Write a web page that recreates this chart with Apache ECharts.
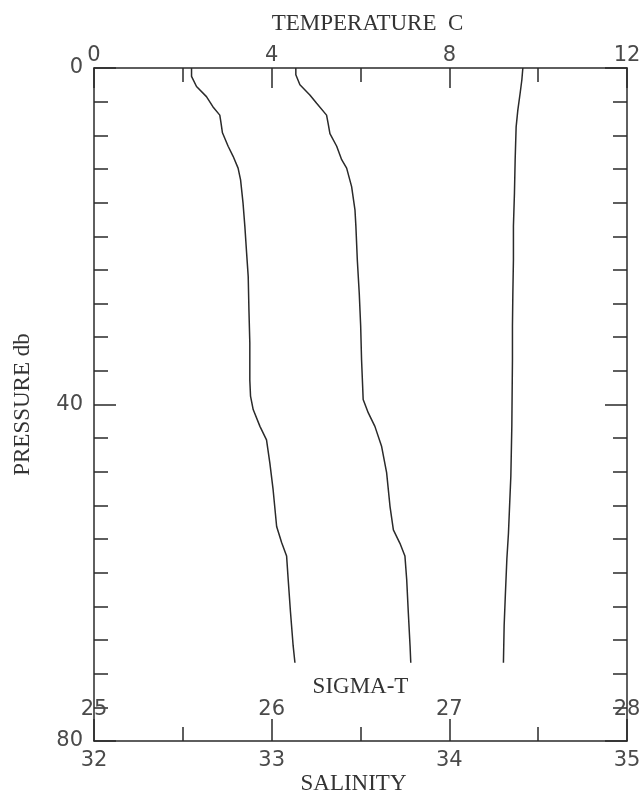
<!DOCTYPE html>
<html>
<head>
<meta charset="utf-8">
<style>html,body{margin:0;padding:0;background:#fff;}#c{width:644px;height:795px;}</style>
<script src="https://cdn.jsdelivr.net/npm/echarts@6/dist/echarts.min.js"></script>
</head>
<body>
<div id="c"></div>
<script>
// Pressure (db) sampling for each profile
var sigmaPressure = [0, 1, 2.2, 3.4, 4.6, 5.6, 6.4, 7.7, 9.3, 10.5, 11.9, 13.3, 16.1, 18.8, 22.0, 24.8, 28.7, 32.7, 37.1, 39.0, 40.6, 42.6, 44.2, 47.0, 50.1, 54.5, 56.4, 58.0, 60.8, 64.7, 68.7, 70.7];
var sigmaValues = [25.549, 25.549, 25.577, 25.633, 25.669, 25.708, 25.714, 25.723, 25.755, 25.783, 25.811, 25.825, 25.839, 25.849, 25.859, 25.868, 25.872, 25.877, 25.877, 25.881, 25.896, 25.934, 25.971, 25.990, 26.008, 26.028, 26.056, 26.084, 26.093, 26.106, 26.121, 26.131];

var salinityPressure = [0, 0.8, 2.0, 3.2, 4.2, 5.6, 6.6, 7.8, 9.3, 10.9, 11.9, 14.1, 16.9, 18.8, 22.8, 26.8, 30.7, 34.7, 37.8, 39.4, 41.0, 42.6, 45.0, 48.1, 52.1, 54.9, 56.5, 58.0, 60.8, 64.7, 68.7, 70.7];
var salinityValues = [33.136, 33.136, 33.159, 33.215, 33.253, 33.309, 33.318, 33.328, 33.366, 33.394, 33.422, 33.450, 33.469, 33.474, 33.482, 33.493, 33.501, 33.506, 33.512, 33.515, 33.544, 33.581, 33.619, 33.647, 33.666, 33.685, 33.722, 33.750, 33.760, 33.769, 33.779, 33.783];

var tempPressure = [0, 1.4, 3.0, 5.0, 7.0, 10.9, 14.9, 18.8, 22.8, 26.8, 30.7, 34.7, 38.6, 42.6, 48.5, 52.5, 55.3, 58.4, 62.4, 66.3, 70.7];
var tempValues = [9.655, 9.633, 9.594, 9.542, 9.504, 9.482, 9.466, 9.443, 9.443, 9.430, 9.421, 9.421, 9.414, 9.407, 9.385, 9.353, 9.331, 9.295, 9.263, 9.234, 9.218];

var tempTicks = [0, 4, 8, 12];
var salinityTicks = [32, 33, 34, 35];
var sigmaTicks = [25, 26, 27, 28];
var pressureTicks = [0, 40, 80];

function pairs(xs, ps) { return xs.map(function (v, i) { return [v, ps[i]]; }); }
function only(list) { return function (v) { return list.indexOf(v) >= 0 ? String(v) : ''; }; }

var ink = '#2a2a2a';
var labelFont = { fontFamily: 'DejaVu Sans', fontSize: 21, color: '#4a4a4a' };
function nameFont(extra) { return Object.assign({ fontFamily: 'Liberation Serif', fontSize: 23, color: '#333' }, extra || {}); }
var tickLine = { color: ink, width: 1.5 };

function rightFrame(interval, len, showLine) {
  return {
    type: 'value', position: 'right', inverse: true, min: 0, max: 80, interval: interval,
    axisLine: { show: showLine, onZero: false, lineStyle: tickLine },
    axisTick: { show: true, inside: true, length: len, lineStyle: tickLine },
    minorTick: { show: false },
    axisLabel: { show: false },
    splitLine: { show: false }
  };
}

var chart = echarts.init(document.getElementById('c'), null, { renderer: 'canvas' });
chart.setOption({
  animation: false,
  backgroundColor: '#fff',
  grid: { left: 94, right: 17, top: 68, bottom: 54, containLabel: false, outerBoundsMode: 'none' },
  xAxis: [
    {
      type: 'value', position: 'top', min: 0, max: 12, interval: 4,
      name: 'TEMPERATURE  C', nameLocation: 'middle', nameGap: 33, nameMoveOverlap: false,
      nameTextStyle: nameFont({ padding: [0, 0, 0, 14] }),
      axisLine: { show: true, lineStyle: tickLine },
      axisTick: { show: true, inside: true, length: 20, lineStyle: tickLine },
      minorTick: { show: true, splitNumber: 2, length: 14, lineStyle: tickLine },
      axisLabel: Object.assign({ margin: 2, formatter: only(tempTicks) }, labelFont),
      splitLine: { show: false }
    },
    {
      type: 'value', position: 'bottom', min: 32, max: 35, interval: 1,
      name: 'SALINITY', nameLocation: 'middle', nameGap: 31, nameMoveOverlap: false,
      nameTextStyle: nameFont({ padding: [0, 14, 0, 0] }),
      axisLine: { show: true, onZero: false, lineStyle: tickLine },
      axisTick: { show: true, inside: true, length: 22, lineStyle: tickLine },
      minorTick: { show: true, splitNumber: 2, length: 14, lineStyle: tickLine },
      axisLabel: Object.assign({ margin: 9, formatter: only(salinityTicks) }, labelFont),
      splitLine: { show: false }
    },
    {
      type: 'value', position: 'bottom', offset: -44, min: 25, max: 28, interval: 1,
      name: 'SIGMA-T', nameLocation: 'middle', nameGap: -22, nameMoveOverlap: false,
      nameTextStyle: nameFont(),
      axisLine: { show: false, onZero: false },
      axisTick: { show: false },
      axisLabel: Object.assign({ margin: 2, formatter: only(sigmaTicks) }, labelFont),
      splitLine: { show: false }
    }
  ],
  yAxis: [
    {
      type: 'value', position: 'left', inverse: true, min: 0, max: 80, interval: 40,
      name: 'PRESSURE db', nameLocation: 'middle', nameGap: 60, nameRotate: 90, nameMoveOverlap: false,
      nameTextStyle: nameFont(),
      axisLine: { show: true, onZero: false, lineStyle: tickLine },
      axisTick: { show: true, inside: true, length: 22, lineStyle: tickLine },
      minorTick: { show: true, splitNumber: 10, length: 14, lineStyle: tickLine },
      axisLabel: Object.assign({ margin: 11, formatter: only(pressureTicks) }, labelFont),
      splitLine: { show: false }
    },
    rightFrame(4, 14, true),
    rightFrame(40, 22, false)
  ],
  series: [
    { name: 'Sigma-T', type: 'line', xAxisIndex: 2, yAxisIndex: 0, showSymbol: false, symbol: 'none',
      lineStyle: { color: ink, width: 1.5 }, data: pairs(sigmaValues, sigmaPressure) },
    { name: 'Salinity', type: 'line', xAxisIndex: 1, yAxisIndex: 0, showSymbol: false, symbol: 'none',
      lineStyle: { color: ink, width: 1.5 }, data: pairs(salinityValues, salinityPressure) },
    { name: 'Temperature', type: 'line', xAxisIndex: 0, yAxisIndex: 0, showSymbol: false, symbol: 'none',
      lineStyle: { color: ink, width: 1.5 }, data: pairs(tempValues, tempPressure) }
  ]
});
</script>
</body>
</html>
